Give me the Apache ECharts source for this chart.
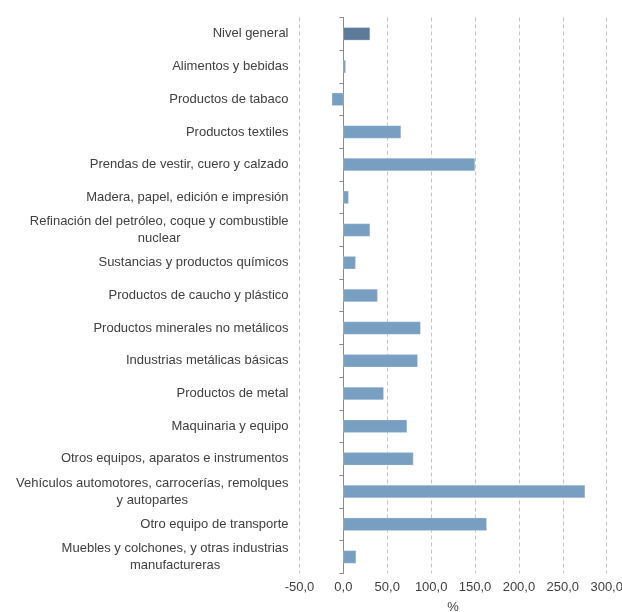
<!DOCTYPE html>
<html>
<head>
<meta charset="utf-8">
<script src="https://cdn.jsdelivr.net/npm/echarts@6/dist/echarts.min.js"></script>
<style>html,body{margin:0;padding:0;background:#fff;}#c{width:622px;height:612px;}</style>
</head>
<body>
<div id="c"></div>
<script>
const categories = [
  "Nivel general",
  "Alimentos y bebidas",
  "Productos de tabaco",
  "Productos textiles",
  "Prendas de vestir, cuero y calzado",
  "Madera, papel, edición e impresión",
  "Refinación del petróleo, coque y combustible\nnuclear",
  "Sustancias y productos químicos",
  "Productos de caucho y plástico",
  "Productos minerales no metálicos",
  "Industrias metálicas básicas",
  "Productos de metal",
  "Maquinaria y equipo",
  "Otros equipos, aparatos e instrumentos",
  "Vehículos automotores, carrocerías, remolques\ny autopartes",
  "Otro equipo de transporte",
  "Muebles y colchones, y otras industrias\nmanufactureras"
];
const values = [30.4, 2.7, -13.2, 65.7, 150.0, 6.0, 30.4, 14.0, 39.0, 88.0, 84.7, 46.0, 72.6, 79.8, 275.4, 163.4, 14.5];
const highlightIndex = 0;
const xTicks = { min: -50, max: 300, interval: 50 };
const axisName = "%";

const cats = categories.slice().reverse();
const vals = values.slice().reverse();
const hiIdx = categories.length - 1 - highlightIndex;

const chart = echarts.init(document.getElementById('c'), null, { renderer: 'canvas' });
const fontFamily = "'Liberation Sans', Arial, sans-serif";
chart.setOption({
  animation: false,
  backgroundColor: '#ffffff',
  grid: { left: 299.5, right: 15.3, top: 17.5, bottom: 38.7, containLabel: false, outerBoundsMode: 'none' },
  xAxis: {
    type: 'value',
    min: xTicks.min, max: xTicks.max, interval: xTicks.interval,
    name: axisName, nameLocation: 'middle', nameGap: 28,
    nameTextStyle: { color: '#404040', fontSize: 13, fontFamily },
    axisLine: { show: false },
    axisTick: { show: false },
    axisLabel: {
      color: '#404040', fontSize: 13, fontFamily, margin: 8,
      formatter: v => v.toFixed(1).replace('.', ',')
    },
    splitLine: { show: true, lineStyle: { color: '#c4c4c4', type: [4, 3], width: 1 } }
  },
  yAxis: [
    {
      type: 'category', data: cats, position: 'left',
      axisLine: { show: true, onZero: true, lineStyle: { color: '#8a8a8a', width: 1 } },
      axisTick: { show: true, length: 4, lineStyle: { color: '#8a8a8a' } },
      axisLabel: { show: false },
      splitLine: { show: false }
    },
    {
      type: 'category', data: cats, position: 'left',
      axisLine: { show: false, onZero: false },
      axisTick: { show: false },
      axisLabel: {
        show: true, margin: 11, color: '#404040', fontSize: 13, fontFamily, lineHeight: 17,
        formatter: v => v.split('\n').map(s => '{c|' + s + '}').join('\n'),
        rich: { c: { align: 'center', color: '#404040', fontSize: 13, fontFamily, lineHeight: 17 } }
      },
      splitLine: { show: false }
    }
  ],
  series: [{
    type: 'bar',
    yAxisIndex: 0,
    barWidth: 13,
    data: vals.map((v, i) => ({
      value: v,
      itemStyle: { color: i === hiIdx ? '#5d7a98' : '#789fc2' }
    })),
    itemStyle: { borderColor: 'rgba(220,230,240,0.6)', borderWidth: 0.5 }
  }]
});
</script>
</body>
</html>
